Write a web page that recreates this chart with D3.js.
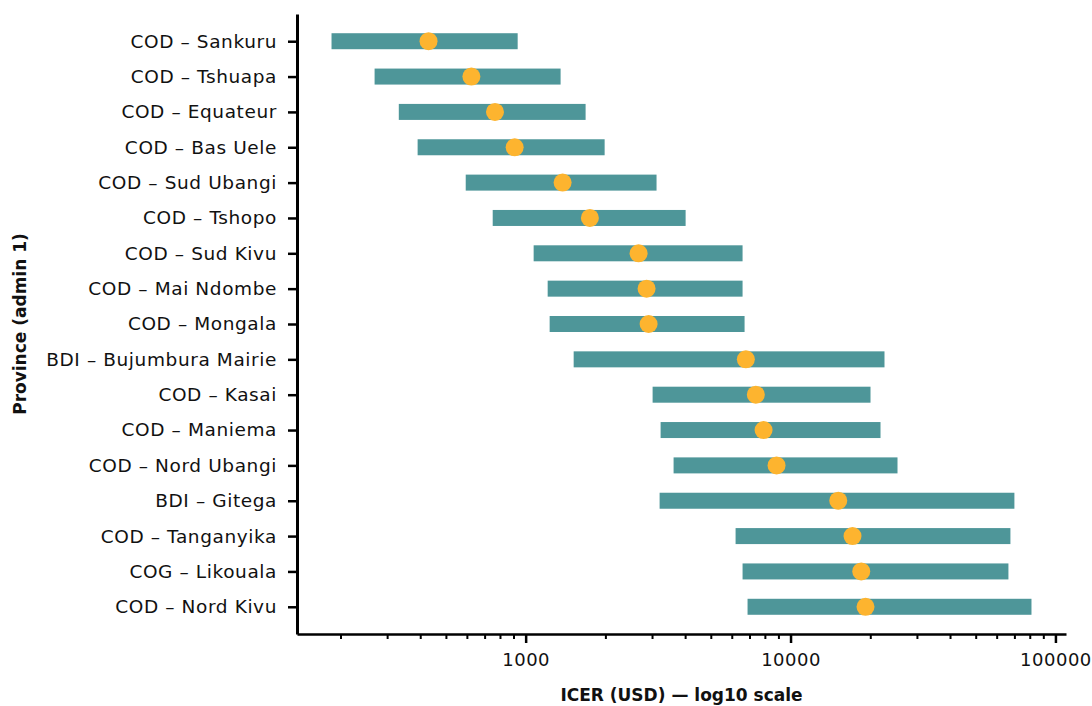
<!DOCTYPE html>
<html>
<head>
<meta charset="utf-8">
<script src="https://cdn.jsdelivr.net/npm/d3@7"></script>
<style>
  body { margin: 0; background: #fff; }
  #chart text { font-family: "DejaVu Sans", sans-serif; fill: #111; }
  .axis path, .axis line { stroke: #000; }
</style>
</head>
<body>
<div id="chart"></div>
<script>
const provinces = [
  'COD – Sankuru', 'COD – Tshuapa', 'COD – Equateur', 'COD – Bas Uele',
  'COD – Sud Ubangi', 'COD – Tshopo', 'COD – Sud Kivu', 'COD – Mai Ndombe',
  'COD – Mongala', 'BDI – Bujumbura Mairie', 'COD – Kasai', 'COD – Maniema',
  'COD – Nord Ubangi', 'BDI – Gitega', 'COD – Tanganyika', 'COG – Likouala',
  'COD – Nord Kivu'
];
const icerLow = [185, 269, 332, 391, 594, 751, 1072, 1211, 1232, 1518, 3015, 3232, 3618, 3204, 6202, 6590, 6882];
const icerHigh = [933, 1355, 1684, 1987, 3120, 4017, 6590, 6590, 6706, 22630, 20040, 21860, 25340, 70000, 67620, 66460, 81200];
const icerMid = [430, 624, 766, 909, 1379, 1748, 2669, 2861, 2912, 6782, 7396, 7910, 8855, 15140, 17140, 18490, 19190];
const majorTicks = [1000, 10000, 100000];

const W = 1092, H = 706;
const margin = { top: 14, right: 26, bottom: 72, left: 297 };
const width = W - margin.left - margin.right;
const height = H - margin.top - margin.bottom;

const rows = provinces.map((p, i) => ({ name: p, lo: icerLow[i], hi: icerHigh[i], mid: icerMid[i] }));

const svg = d3.select('#chart').append('svg')
  .attr('width', W)
  .attr('height', H);

const g = svg.append('g')
  .attr('transform', `translate(${margin.left},${margin.top})`);

const x = d3.scaleLog()
  .domain([d3.min(icerLow) / 1.35, d3.max(icerHigh) * 1.35])
  .range([0, width]);

const y = d3.scalePoint()
  .domain(provinces)
  .range([0, height])
  .padding(0.77);

// minor ticks (2..9 of each decade)
const minorTicks = x.ticks().filter(t => !majorTicks.includes(t));
g.append('g')
  .attr('class', 'axis')
  .attr('transform', `translate(0,${height})`)
  .call(d3.axisBottom(x).tickValues(minorTicks).tickSize(5).tickFormat(() => ''))
  .call(a => a.select('.domain').remove())
  .call(a => a.selectAll('line').attr('stroke-width', 2));

// Ranges
g.selectAll('.range')
  .data(rows)
  .join('rect')
  .attr('class', 'range')
  .attr('x', d => x(d.lo))
  .attr('y', d => y(d.name) - 8)
  .attr('width', d => x(d.hi) - x(d.lo))
  .attr('height', 16)
  .attr('fill', '#4e9699');

// Point estimates
g.selectAll('.mid')
  .data(rows)
  .join('circle')
  .attr('class', 'mid')
  .attr('cx', d => x(d.mid))
  .attr('cy', d => y(d.name))
  .attr('r', 9)
  .attr('fill', '#fdb42f');

// Axes
g.append('g')
  .attr('class', 'axis')
  .attr('transform', `translate(0,${height})`)
  .call(d3.axisBottom(x).tickValues(majorTicks).tickSize(9).tickSizeOuter(0).tickPadding(10).tickFormat(d3.format('d')))
  .call(a => a.select('.domain').attr('stroke-width', 2.5))
  .call(a => a.selectAll('line').attr('stroke-width', 2.5))
  .call(a => a.selectAll('text').attr('font-size', 18).attr('letter-spacing', 0.5));

g.append('g')
  .attr('class', 'axis')
  .call(d3.axisLeft(y).tickSize(9).tickSizeOuter(0).tickPadding(11))
  .call(a => a.select('.domain').attr('stroke-width', 3))
  .call(a => a.selectAll('line').attr('stroke-width', 2.5))
  .call(a => a.selectAll('text').attr('font-size', 18.5).attr('letter-spacing', 0.6));

// Titles
g.append('text')
  .attr('x', width / 2)
  .attr('y', height + 67)
  .attr('text-anchor', 'middle')
  .attr('font-size', 17)
  .attr('font-weight', 'bold')
  .text('ICER (USD) — log10 scale');

g.append('text')
  .attr('transform', `translate(${-margin.left + 26},${height / 2}) rotate(-90)`)
  .attr('text-anchor', 'middle')
  .attr('font-size', 17)
  .attr('font-weight', 'bold')
  .text('Province (admin 1)');
</script>
</body>
</html>
